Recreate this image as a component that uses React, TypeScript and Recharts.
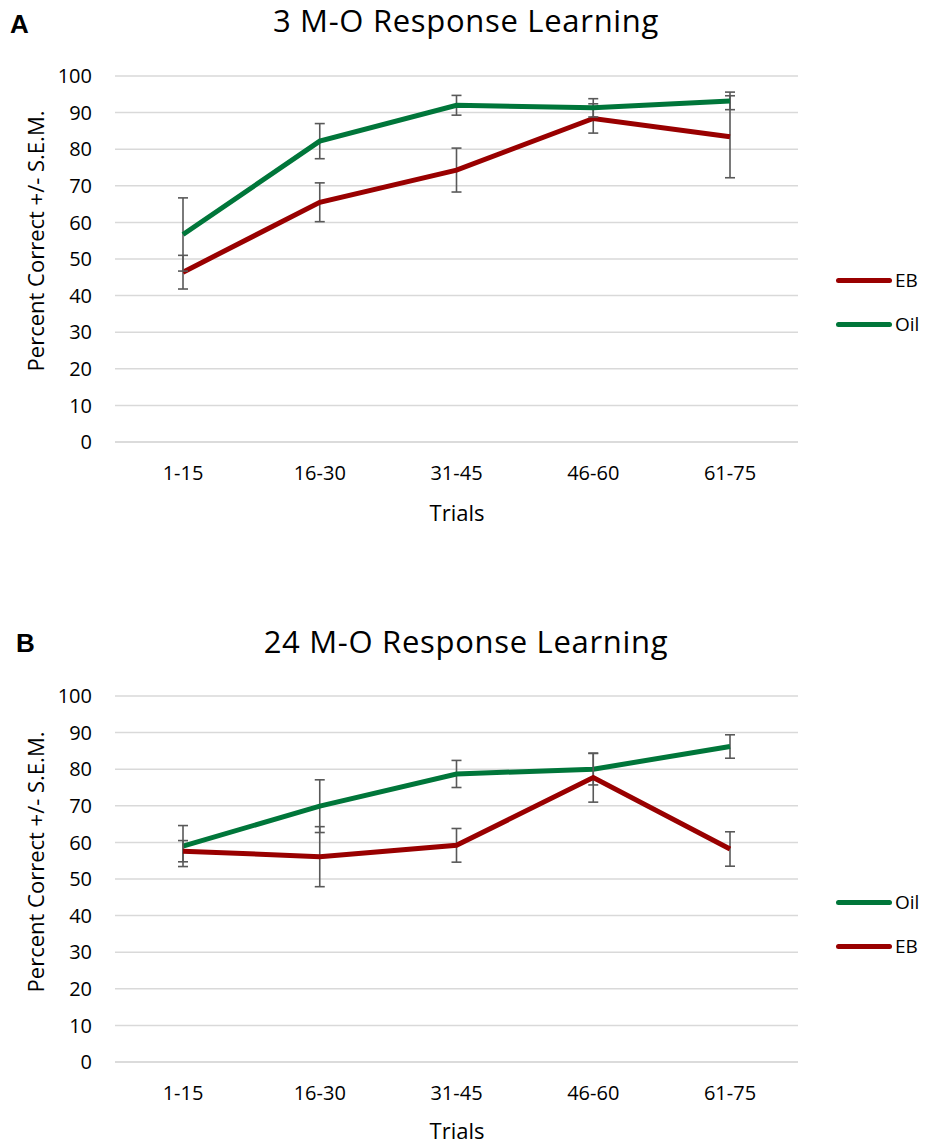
import React from "react";
import { LineChart, Line, XAxis, YAxis, CartesianGrid, ErrorBar, Legend } from "recharts";

const trials = ["1-15", "16-30", "31-45", "46-60", "61-75"];
const yTicks = [0, 10, 20, 30, 40, 50, 60, 70, 80, 90, 100];

// panel A: 3 M-O
const ebA = [46.4, 65.5, 74.3, 88.4, 83.4];
const ebAErr = [4.6, 5.3, 6.0, 4.0, 11.2];
const oilA = [56.7, 82.2, 92.0, 91.3, 93.2];
const oilAErr = [10.0, 4.8, 2.7, 2.5, 2.4];

// panel B: 24 M-O
const oilB = [59.0, 69.9, 78.7, 80.0, 86.2];
const oilBErr = [5.6, 7.2, 3.7, 4.3, 3.2];
const ebB = [57.6, 56.1, 59.2, 77.7, 58.2];
const ebBErr = [2.9, 8.2, 4.6, 6.7, 4.7];

const EB_COLOR = "#990000";
const OIL_COLOR = "#00763A";
const ERR_COLOR = "#595959";
const FONT = "'Open Sans', sans-serif";
const NAMES: Record<string, string> = { eb: "EB", oil: "Oil" };

const dataA = trials.map((t, i) => ({ trial: t, eb: ebA[i], ebErr: ebAErr[i], oil: oilA[i], oilErr: oilAErr[i] }));
const dataB = trials.map((t, i) => ({ trial: t, eb: ebB[i], ebErr: ebBErr[i], oil: oilB[i], oilErr: oilBErr[i] }));

const LegendBox = ({ payload, order }: any) => {
  const items = order.map((k: string) => (payload || []).find((p: any) => p.value === NAMES[k])).filter(Boolean);
  return (
    <div style={{ fontFamily: FONT, fontSize: 19, color: "#000" }}>
      {items.map((p: any) => (
        <div key={p.value} style={{ display: "flex", alignItems: "center", height: 44 }}>
          <div style={{ width: 56, height: 5, borderRadius: 3, background: p.color, marginRight: 3 }} />
          <span>{p.value}</span>
        </div>
      ))}
    </div>
  );
};

const Panel = ({ data, order, top, height, plotTop, legendTop }: any) => (
  <div style={{ position: "absolute", left: 0, top, width: 925, height }}>
    <LineChart
      width={925}
      height={height}
      data={data}
      margin={{ top: plotTop, right: 127, left: 0, bottom: height - plotTop - 366 - 30 }}
    >
      <CartesianGrid vertical={false} stroke="#D9D9D9" strokeWidth={1.5} />
      <XAxis
        dataKey="trial"
        padding={{ left: 68, right: 68 }}
        axisLine={{ stroke: "#D9D9D9", strokeWidth: 1.5 }}
        tickLine={false}
        tickMargin={18}
        tick={{ fill: "#000", fontSize: 20, fontFamily: FONT }}
      />
      <YAxis
        width={115}
        domain={[0, 100]}
        ticks={yTicks}
        axisLine={false}
        tickLine={false}
        tickSize={0}
        tickMargin={23}
        tick={{ fill: "#000", fontSize: 20, fontFamily: FONT }}
      />
      <Legend
        layout="vertical"
        align="center"
        verticalAlign="middle"
        content={<LegendBox order={order} />}
        wrapperStyle={{ position: "absolute", left: 836, top: legendTop, width: 90 }}
      />
      {order.map((k: string) => (
        <Line
          key={k}
          dataKey={k}
          name={NAMES[k]}
          stroke={k === "eb" ? EB_COLOR : OIL_COLOR}
          strokeWidth={5}
          dot={false}
          activeDot={false}
          isAnimationActive={false}
        >
          <ErrorBar dataKey={k + "Err"} width={5} stroke={ERR_COLOR} strokeWidth={1.6} />
        </Line>
      ))}
    </LineChart>
  </div>
);

const textStyle: React.CSSProperties = { position: "absolute", fontFamily: FONT, color: "#000", whiteSpace: "nowrap" };
const letterStyle: React.CSSProperties = { ...textStyle, fontSize: 26, fontWeight: 700, fontFamily: "'Liberation Sans', Arial, sans-serif" };
const titleStyle: React.CSSProperties = { ...textStyle, left: 466, transform: "translateX(-50%)", fontSize: 31, lineHeight: "34px", letterSpacing: 0.7 };

export default function App() {
  return (
    <div style={{ position: "absolute", left: 0, top: 0, width: 925, height: 1143, background: "#fff" }}>
      <Panel data={dataA} order={["eb", "oil"]} top={0} height={560} plotTop={76} legendTop={258} />
      <Panel data={dataB} order={["oil", "eb"]} top={560} height={583} plotTop={136} legendTop={320} />

      <div style={{ ...letterStyle, left: 10, top: 9 }}>A</div>
      <div style={{ ...letterStyle, left: 16, top: 628 }}>B</div>

      <div style={{ ...titleStyle, top: 3 }}>3 M-O Response Learning</div>
      <div style={{ ...titleStyle, top: 624 }}>24 M-O Response Learning</div>

      <div style={{ ...textStyle, left: 457, top: 512, transform: "translate(-50%,-50%)", fontSize: 22 }}>Trials</div>
      <div style={{ ...textStyle, left: 457, top: 1130, transform: "translate(-50%,-50%)", fontSize: 22 }}>Trials</div>

      <div style={{ ...textStyle, left: 35, top: 241, transform: "translate(-50%,-50%) rotate(-90deg)", fontSize: 22 }}>Percent Correct +/- S.E.M.</div>
      <div style={{ ...textStyle, left: 35, top: 862, transform: "translate(-50%,-50%) rotate(-90deg)", fontSize: 22 }}>Percent Correct +/- S.E.M.</div>
    </div>
  );
}
